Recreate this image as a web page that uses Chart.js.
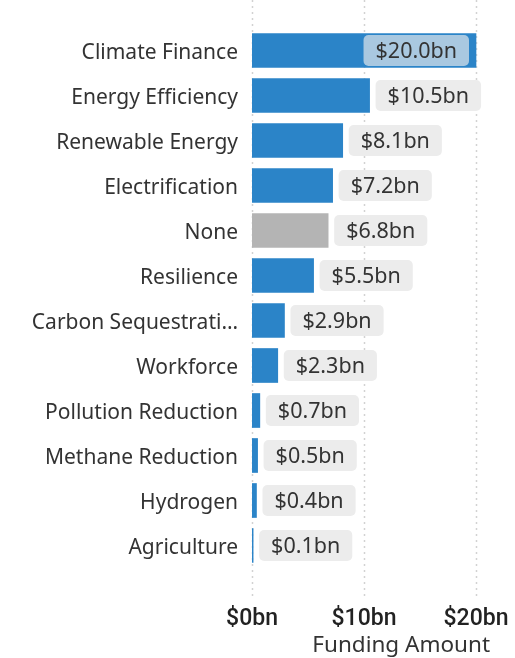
<!DOCTYPE html>
<html>
<head>
<meta charset="utf-8">
<script src="https://cdn.jsdelivr.net/npm/chart.js@4"></script>
<style>
  html, body { margin: 0; padding: 0; background: #fff; }
  #wrap { width: 515px; height: 658px; }
</style>
</head>
<body>
<div id="wrap"><canvas id="bars"></canvas></div>
<script>
const categories = ['Climate Finance', 'Energy Efficiency', 'Renewable Energy', 'Electrification', 'None', 'Resilience', 'Carbon Sequestrati\u2026', 'Workforce', 'Pollution Reduction', 'Methane Reduction', 'Hydrogen', 'Agriculture'];
const funding = [20.0, 10.5, 8.1, 7.2, 6.8, 5.5, 2.9, 2.3, 0.7, 0.5, 0.4, 0.1];
const xTicks = [0, 10, 20];

const BLUE = '#2b84c8';
const GREY = '#b4b4b4';

// dotted vertical gridlines, running past the plot area like the original
const gridPlugin = {
  id: 'dottedGrid',
  beforeDatasetsDraw(chart) {
    const ctx = chart.ctx;
    const x = chart.scales.x;
    ctx.save();
    ctx.strokeStyle = '#d2d2d2';
    ctx.lineWidth = 1.5;
    ctx.setLineDash([2, 4]);
    xTicks.forEach(v => {
      const px = Math.round(x.getPixelForValue(v)) + 0.5;
      ctx.beginPath();
      ctx.moveTo(px, 0);
      ctx.lineTo(px, chart.chartArea.bottom + 30);
      ctx.stroke();
    });
    ctx.restore();
  }
};

function roundRect(ctx, x, y, w, h, r) {
  ctx.beginPath();
  ctx.moveTo(x + r, y);
  ctx.arcTo(x + w, y, x + w, y + h, r);
  ctx.arcTo(x + w, y + h, x, y + h, r);
  ctx.arcTo(x, y + h, x, y, r);
  ctx.arcTo(x, y, x + w, y, r);
  ctx.closePath();
}

// value labels in small grey boxes
const labelPlugin = {
  id: 'valueBoxes',
  afterDatasetsDraw(chart) {
    const ctx = chart.ctx;
    const meta = chart.getDatasetMeta(0);
    ctx.save();
    ctx.font = '21.5px "Noto Sans"';
    ctx.textBaseline = 'middle';
    meta.data.forEach((bar, i) => {
      const txt = '$' + funding[i].toFixed(1) + 'bn';
      const w = ctx.measureText(txt).width + 24;
      const h = 31;
      let bx = bar.x + 6;
      let fill = '#ececec';
      if (bx + w > chart.width) {
        bx = bar.x - 7 - w;
        fill = 'rgba(236,236,236,0.65)';
      }
      roundRect(ctx, bx, bar.y - h / 2, w, h, 5);
      ctx.fillStyle = fill;
      ctx.fill();
      ctx.fillStyle = '#333';
      ctx.textAlign = 'left';
      ctx.fillText(txt, bx + 12, bar.y + 1);
    });
    ctx.restore();
  }
};

const barConfig = {
  type: 'bar',
  data: {
    labels: categories,
    datasets: [{
      data: funding,
      backgroundColor: categories.map(c => c === 'None' ? GREY : BLUE),
      borderWidth: 0,
      barThickness: 34,
    }],
  },
  options: {
    indexAxis: 'y',
    responsive: true,
    maintainAspectRatio: false,
    animation: false,
    layout: { padding: { top: 28, right: 25, left: 0, bottom: 0 } },
    plugins: {
      legend: { display: false },
      tooltip: { enabled: false },
    },
    scales: {
      x: {
        min: 0,
        max: 21.25,
        grid: { display: false, drawTicks: false },
        border: { display: false },
        afterBuildTicks: s => { s.ticks = xTicks.map(v => ({ value: v })); },
        afterFit: s => { s.height = 90; s.paddingLeft = 0; s.paddingRight = 0; },
        ticks: {
          padding: 37,
          color: '#222',
          font: { family: 'Roboto', size: 23, weight: '500' },
          callback: v => '$' + v + 'bn',
        },
        title: {
          display: true,
          text: 'Funding Amount',
          align: 'end',
          color: '#333',
          padding: { top: 0, bottom: -1 },
          font: { family: 'Noto Sans', size: 22.5 },
        },
      },
      y: {
        grid: { display: false, drawTicks: false },
        border: { display: false },
        afterFit: s => { s.width = 252; },
        ticks: {
          padding: 14,
          labelOffset: 2.5,
          color: '#333',
          font: { family: 'Noto Sans', size: 21 },
        },
      },
    },
  },
  plugins: [gridPlugin, labelPlugin],
};

const barsCtx = document.getElementById('bars');
window.myBar = new Chart(barsCtx, barConfig);
</script>
</body>
</html>
